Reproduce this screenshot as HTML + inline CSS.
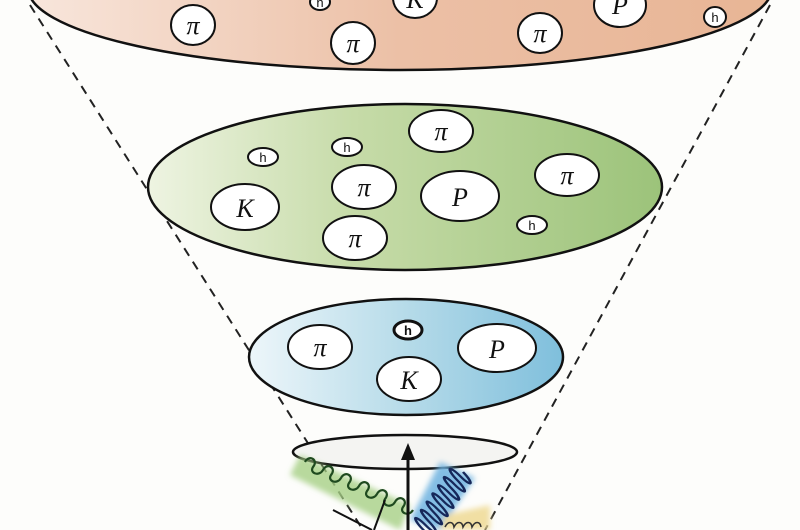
<!DOCTYPE html>
<html><head><style>html,body{margin:0;padding:0;background:#fdfdfb;}svg{display:block}</style></head>
<body>
<svg width="800" height="530" viewBox="0 0 800 530" xmlns="http://www.w3.org/2000/svg" font-family="Liberation Serif, serif" font-style="italic">
<defs>
<linearGradient id="o" x1="0" x2="1"><stop offset="0" stop-color="#f8e6dc"/><stop offset="0.5" stop-color="#ecc0a6"/><stop offset="1" stop-color="#e8b595"/></linearGradient>
<linearGradient id="g" x1="0" x2="1"><stop offset="0" stop-color="#eef4e2"/><stop offset="0.4" stop-color="#c6dba8"/><stop offset="1" stop-color="#9cc37a"/></linearGradient>
<linearGradient id="b" x1="0" x2="1"><stop offset="0" stop-color="#edf6fa"/><stop offset="0.5" stop-color="#b6dbe9"/><stop offset="1" stop-color="#7fbfdc"/></linearGradient>
<filter id="bl"><feGaussianBlur stdDeviation="3"/></filter>
</defs>
<rect width="800" height="530" fill="#fdfdfb"/>
<g stroke="#222" stroke-width="2" stroke-dasharray="9,7" fill="none">
<line x1="30" y1="5" x2="363" y2="530"/>
<line x1="770" y1="5" x2="485" y2="530"/>
</g>
<ellipse cx="400" cy="-12" rx="372" ry="82" fill="url(#o)" stroke="#111" stroke-width="2.5"/>
<ellipse cx="405" cy="187" rx="257" ry="83" fill="url(#g)" stroke="#111" stroke-width="2.5"/>
<ellipse cx="406" cy="357" rx="157" ry="58" fill="url(#b)" stroke="#111" stroke-width="2.5"/>
<g fill="#fff" stroke="#111" stroke-width="2">
<ellipse cx="193" cy="25" rx="22" ry="20"/><ellipse cx="320" cy="2" rx="10" ry="8"/>
<ellipse cx="415" cy="-2" rx="22" ry="20"/><ellipse cx="353" cy="43" rx="22" ry="21"/>
<ellipse cx="540" cy="33" rx="22" ry="20"/><ellipse cx="620" cy="5" rx="26" ry="22"/>
<ellipse cx="715" cy="17" rx="11" ry="10"/>
<ellipse cx="263" cy="157" rx="15" ry="9"/><ellipse cx="347" cy="147" rx="15" ry="9"/>
<ellipse cx="441" cy="131" rx="32" ry="21"/><ellipse cx="245" cy="207" rx="34" ry="23"/>
<ellipse cx="364" cy="187" rx="32" ry="22"/><ellipse cx="460" cy="196" rx="39" ry="25"/>
<ellipse cx="567" cy="175" rx="32" ry="21"/><ellipse cx="532" cy="225" rx="15" ry="9"/>
<ellipse cx="355" cy="238" rx="32" ry="22"/>
<ellipse cx="320" cy="347" rx="32" ry="22"/><ellipse cx="408" cy="330" rx="14" ry="9" stroke-width="3"/>
<ellipse cx="497" cy="348" rx="39" ry="24"/><ellipse cx="409" cy="379" rx="32" ry="22"/>
</g>
<g font-size="26" text-anchor="middle" fill="#111">
<text x="193" y="34">π</text><text x="415" y="8">K</text><text x="353" y="52">π</text>
<text x="540" y="42">π</text><text x="620" y="14">P</text>
<text x="441" y="140">π</text><text x="245" y="217">K</text><text x="364" y="196">π</text>
<text x="460" y="206">P</text><text x="567" y="184">π</text><text x="355" y="247">π</text>
<text x="320" y="356">π</text><text x="497" y="358">P</text><text x="409" y="389">K</text>
</g>
<g font-family="Liberation Sans, sans-serif" font-style="normal" font-size="13" text-anchor="middle" fill="#111">
<text x="320" y="7">h</text><text x="715" y="22">h</text><text x="263" y="162">h</text>
<text x="347" y="152">h</text><text x="532" y="230">h</text><text x="408" y="335" font-weight="bold">h</text>
</g>
<ellipse cx="405" cy="452" rx="112" ry="17" fill="#f4f4f2" stroke="#111" stroke-width="2.5"/>
<g filter="url(#bl)">
<path d="M300,455 L410,505 L400,530 L290,475 Z" fill="#a6cf86" opacity="0.8"/>
<path d="M440,462 L475,478 L440,530 L410,520 Z" fill="#6fb3e0" opacity="0.85"/>
<path d="M445,515 L490,505 L490,530 L440,530 Z" fill="#f0dc9a" opacity="0.9"/>
</g>
<g fill="none" stroke="#1f4a1f" stroke-width="2.2">
<path d="M305,462 c4,-8 14,-2 8,5 c-4,6 6,10 10,3 c4,-8 14,-2 8,5 c-4,6 6,10 10,3 c4,-8 14,-2 8,5 c-4,6 6,10 10,3 c4,-8 14,-2 8,5 c-4,6 6,10 10,3 c4,-8 14,-2 8,5 c-4,6 6,10 10,3 c4,-8 14,-2 8,5 c-4,6 6,10 10,3"/>
</g>
<g fill="none" stroke="#16285a" stroke-width="2.2" transform="translate(463,472) rotate(125)">
<path d="M0,0 c3,-10 8,-10 5,0 c-3,10 2,10 5,0 c3,-10 8,-10 5,0 c-3,10 2,10 5,0 c3,-10 8,-10 5,0 c-3,10 2,10 5,0 c3,-10 8,-10 5,0 c-3,10 2,10 5,0 c3,-10 8,-10 5,0 c-3,10 2,10 5,0 c3,-10 8,-10 5,0 c-3,10 2,10 5,0 c3,-10 8,-10 5,0 c-3,10 2,10 5,0 c3,-10 8,-10 5,0" transform="scale(1,1.6)"/>
</g>
<path d="M445,527 c3,-6 8,-6 9,0 c3,-6 8,-6 9,0 c3,-6 8,-6 9,0 c3,-6 8,-6 9,0" fill="none" stroke="#333" stroke-width="1.6"/>
<g stroke="#111" stroke-width="2"><line x1="333" y1="510" x2="372" y2="530"/><line x1="385" y1="500" x2="374" y2="530"/></g>
<line x1="408" y1="530" x2="408" y2="458" stroke="#111" stroke-width="3"/>
<polygon points="408,443 401,460 415,460" fill="#111"/>
</svg>
</body></html>
